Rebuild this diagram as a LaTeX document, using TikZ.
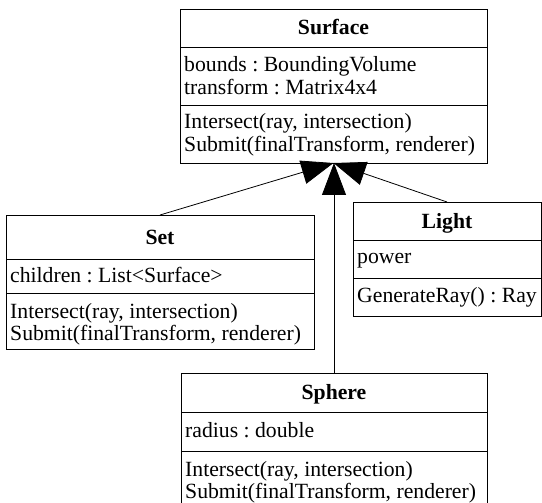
\documentclass[tikz,border=0pt]{standalone}
\usepackage{fontspec}
\setmainfont{Liberation Serif}
\usetikzlibrary{arrows.meta}
\frenchspacing
\begin{document}
\begin{tikzpicture}[x=1pt,y=-1pt,
 comp/.style={draw=black, line width=0.8pt, rectangle, inner sep=0pt, outer sep=0pt, anchor=north west},
 txt/.style={anchor=base west, inner sep=0pt, font=\fontsize{21.7}{23}\selectfont},
 ttl/.style={anchor=base, inner sep=0pt, font=\fontsize{21.7}{23}\selectfont\bfseries},
 gen/.style={draw=black, line width=0.8pt, -{Triangle[length=32pt,width=24pt]}}]
\useasboundingbox (0,0) rectangle (542,503);
% Surface
\node[comp, minimum width=307pt, minimum height=38pt] (surfT) at (180,9) {};
\node[comp, minimum width=307pt, minimum height=58pt] (surfA) at (180,47) {};
\node[comp, minimum width=307pt, minimum height=58pt] (surfM) at (180,105) {};
\node[ttl] (surfN) at (333.5,35) {Surface};
\node[txt] (surfA1) at (184,72) {bounds : BoundingVolume};
\node[txt] (surfA2) at (184,95) {transform : Matrix4x4};
\node[txt] (surfM1) at (184,129) {Intersect(ray, intersection)};
\node[txt] (surfM2) at (184,152) {Submit(finalTransform, renderer)};
% Set
\node[comp, minimum width=308pt, minimum height=44pt] (setT) at (6,215) {};
\node[comp, minimum width=308pt, minimum height=34pt] (setA) at (6,259) {};
\node[comp, minimum width=308pt, minimum height=56pt] (setM) at (6,293) {};
\node[ttl] (setN) at (160,244) {Set};
\node[txt] (setA1) at (10,283) {children : List<Surface>};
\node[txt] (setM1) at (10,318) {Intersect(ray, intersection)};
\node[txt] (setM2) at (10,341) {Submit(finalTransform, renderer)};
% Light
\node[comp, minimum width=188pt, minimum height=38pt] (ligT) at (353,202) {};
\node[comp, minimum width=188pt, minimum height=38pt] (ligA) at (353,240) {};
\node[comp, minimum width=188pt, minimum height=38pt] (ligM) at (353,278) {};
\node[ttl] (ligN) at (447,229) {Light};
\node[txt] (ligA1) at (357,264) {power};
\node[txt] (ligM1) at (357,302) {GenerateRay() : Ray};
% Sphere
\node[comp, minimum width=306pt, minimum height=39pt] (sphT) at (181,373) {};
\node[comp, minimum width=306pt, minimum height=39pt] (sphA) at (181,412) {};
\node[comp, minimum width=306pt, minimum height=89pt] (sphM) at (181,451) {};
\node[ttl] (sphN) at (334,399) {Sphere};
\node[txt] (sphA1) at (185,437) {radius : double};
\node[txt] (sphM1) at (185,476) {Intersect(ray, intersection)};
\node[txt] (sphM2) at (185,498) {Submit(finalTransform, renderer)};
% generalisations
\draw[gen] (setT.north) -- (surfM.south);
\draw[gen] (ligT.north) -- (surfM.south);
\draw[gen] (sphT.north) -- (sphT.north |- surfM.south);
\end{tikzpicture}
\end{document}
